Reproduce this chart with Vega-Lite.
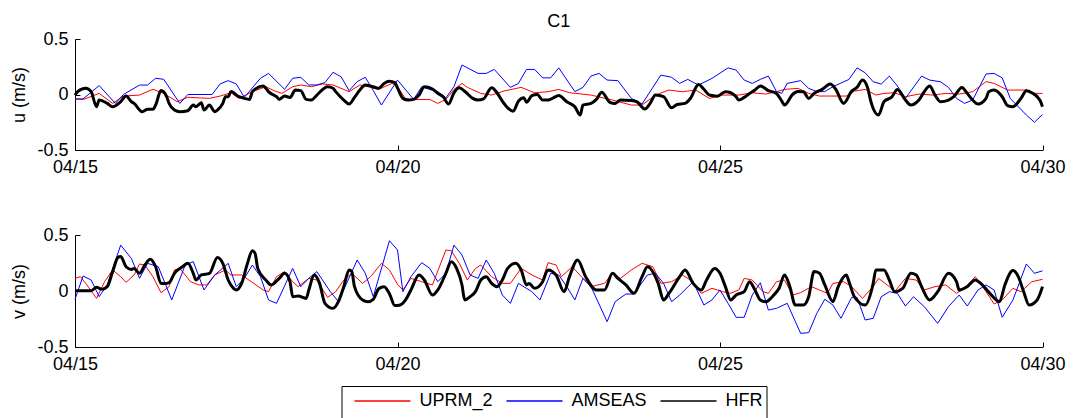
{
"$schema":"https://vega.github.io/schema/vega-lite/v6.json",
"padding":{"left":10,"top":13,"right":5,"bottom":0},
"background":"white",
"title":{"text":"C1","fontSize":18,"fontWeight":"normal","font":"Liberation Sans","color":"black","anchor":"middle","frame":"group","offset":-1},
"bounds":"flush",
"spacing":85,
"config":{"font":"Liberation Sans","view":{"stroke":null},
"axis":{"grid":false,"domainColor":"#000","tickColor":"#000","labelColor":"#000","titleColor":"#000","labelFontSize":18,"titleFontSize":18,"titleFontWeight":"normal","tickSize":-5,"labelFont":"Liberation Sans","titleFont":"Liberation Sans"},
"line":{"strokeJoin":"round"}},
"resolve":{"scale":{"color":"shared"},"legend":{"color":"shared"}},
"datasets":{
"uA":[{"t":"2015-04-15T00:00","y":-0.04},{"t":"2015-04-15T03:00","y":-0.04},{"t":"2015-04-15T09:00","y":0.08},{"t":"2015-04-15T15:00","y":-0.08},{"t":"2015-04-15T18:00","y":0.0},{"t":"2015-04-16T00:00","y":0.085},{"t":"2015-04-16T03:00","y":0.085},{"t":"2015-04-16T06:00","y":0.146},{"t":"2015-04-16T09:00","y":0.137},{"t":"2015-04-16T15:00","y":-0.08},{"t":"2015-04-16T18:00","y":0.0},{"t":"2015-04-17T03:00","y":0.0},{"t":"2015-04-17T06:00","y":0.095},{"t":"2015-04-17T09:00","y":0.125},{"t":"2015-04-17T12:00","y":0.095},{"t":"2015-04-17T15:00","y":-0.025},{"t":"2015-04-17T21:00","y":0.146},{"t":"2015-04-18T00:00","y":0.19},{"t":"2015-04-18T06:00","y":0.047},{"t":"2015-04-18T09:00","y":0.146},{"t":"2015-04-18T12:00","y":0.155},{"t":"2015-04-18T15:00","y":0.086},{"t":"2015-04-18T18:00","y":0.086},{"t":"2015-04-18T21:00","y":0.107},{"t":"2015-04-19T00:00","y":0.2},{"t":"2015-04-19T03:00","y":0.16},{"t":"2015-04-19T06:00","y":0.035},{"t":"2015-04-19T09:00","y":0.116},{"t":"2015-04-19T12:00","y":0.155},{"t":"2015-04-19T15:00","y":0.035},{"t":"2015-04-19T18:00","y":-0.095},{"t":"2015-04-20T00:00","y":0.13},{"t":"2015-04-20T06:00","y":-0.044},{"t":"2015-04-20T09:00","y":0.07},{"t":"2015-04-20T12:00","y":0.045},{"t":"2015-04-20T15:00","y":0.026},{"t":"2015-04-20T18:00","y":-0.03},{"t":"2015-04-20T21:00","y":0.07},{"t":"2015-04-21T00:00","y":0.266},{"t":"2015-04-21T06:00","y":0.19},{"t":"2015-04-21T09:00","y":0.19},{"t":"2015-04-21T12:00","y":0.226},{"t":"2015-04-21T18:00","y":0.064},{"t":"2015-04-21T21:00","y":0.1},{"t":"2015-04-22T00:00","y":0.226},{"t":"2015-04-22T03:00","y":0.226},{"t":"2015-04-22T06:00","y":0.15},{"t":"2015-04-22T09:00","y":0.15},{"t":"2015-04-22T12:00","y":0.24},{"t":"2015-04-22T18:00","y":0.026},{"t":"2015-04-22T21:00","y":0.064},{"t":"2015-04-23T00:00","y":0.166},{"t":"2015-04-23T03:00","y":0.19},{"t":"2015-04-23T06:00","y":0.13},{"t":"2015-04-23T10:00","y":0.125},{"t":"2015-04-23T15:00","y":-0.035},{"t":"2015-04-23T19:00","y":-0.085},{"t":"2015-04-24T02:00","y":0.175},{"t":"2015-04-24T06:00","y":0.155},{"t":"2015-04-24T09:00","y":0.1},{"t":"2015-04-24T12:00","y":0.136},{"t":"2015-04-24T16:00","y":0.085},{"t":"2015-04-24T21:00","y":0.145},{"t":"2015-04-25T03:00","y":0.24},{"t":"2015-04-25T06:00","y":0.22},{"t":"2015-04-25T09:00","y":0.13},{"t":"2015-04-25T12:00","y":0.1},{"t":"2015-04-25T15:00","y":0.136},{"t":"2015-04-25T18:00","y":0.166},{"t":"2015-04-25T21:00","y":0.026},{"t":"2015-04-25T23:00","y":0.011},{"t":"2015-04-26T01:00","y":0.1},{"t":"2015-04-26T06:00","y":0.125},{"t":"2015-04-26T09:00","y":0.055},{"t":"2015-04-26T12:00","y":0.026},{"t":"2015-04-26T15:00","y":0.026},{"t":"2015-04-26T18:00","y":0.07},{"t":"2015-04-27T00:00","y":0.136},{"t":"2015-04-27T03:00","y":0.24},{"t":"2015-04-27T06:00","y":0.196},{"t":"2015-04-27T09:00","y":0.115},{"t":"2015-04-27T12:00","y":0.094},{"t":"2015-04-27T15:00","y":0.166},{"t":"2015-04-27T18:00","y":0.077},{"t":"2015-04-27T21:00","y":-0.035},{"t":"2015-04-28T03:00","y":0.166},{"t":"2015-04-28T06:00","y":0.13},{"t":"2015-04-28T10:00","y":0.115},{"t":"2015-04-28T13:00","y":0.064},{"t":"2015-04-28T16:00","y":-0.035},{"t":"2015-04-28T19:00","y":-0.08},{"t":"2015-04-28T22:00","y":-0.05},{"t":"2015-04-29T03:00","y":0.185},{"t":"2015-04-29T06:00","y":0.19},{"t":"2015-04-29T09:00","y":0.15},{"t":"2015-04-29T12:00","y":-0.035},{"t":"2015-04-29T18:00","y":-0.185},{"t":"2015-04-29T21:00","y":-0.25},{"t":"2015-04-30T00:00","y":-0.18}],
"uU":[{"t":"2015-04-15T00:00","y":-0.04},{"t":"2015-04-15T03:00","y":-0.045},{"t":"2015-04-15T09:00","y":0.01},{"t":"2015-04-15T14:00","y":-0.08},{"t":"2015-04-15T18:00","y":-0.014},{"t":"2015-04-16T00:00","y":-0.005},{"t":"2015-04-16T05:00","y":0.047},{"t":"2015-04-16T09:00","y":0.01},{"t":"2015-04-16T14:00","y":-0.065},{"t":"2015-04-16T18:00","y":-0.025},{"t":"2015-04-17T02:00","y":-0.035},{"t":"2015-04-17T06:00","y":-0.014},{"t":"2015-04-17T10:00","y":0.016},{"t":"2015-04-17T13:00","y":-0.035},{"t":"2015-04-17T18:00","y":0.025},{"t":"2015-04-17T23:00","y":0.07},{"t":"2015-04-18T02:00","y":0.035},{"t":"2015-04-18T05:00","y":0.01},{"t":"2015-04-18T09:00","y":0.07},{"t":"2015-04-18T12:00","y":0.086},{"t":"2015-04-18T16:00","y":0.07},{"t":"2015-04-18T20:00","y":0.095},{"t":"2015-04-19T00:00","y":0.086},{"t":"2015-04-19T06:00","y":0.025},{"t":"2015-04-19T10:00","y":0.086},{"t":"2015-04-19T13:00","y":0.07},{"t":"2015-04-19T17:00","y":0.047},{"t":"2015-04-19T22:00","y":0.1},{"t":"2015-04-20T00:00","y":0.07},{"t":"2015-04-20T03:00","y":-0.04},{"t":"2015-04-20T07:00","y":-0.045},{"t":"2015-04-20T12:00","y":-0.045},{"t":"2015-04-20T15:00","y":-0.08},{"t":"2015-04-20T18:00","y":-0.045},{"t":"2015-04-20T21:00","y":0.046},{"t":"2015-04-21T00:00","y":0.1},{"t":"2015-04-21T02:00","y":0.064},{"t":"2015-04-21T07:00","y":0.01},{"t":"2015-04-21T11:00","y":-0.005},{"t":"2015-04-21T16:00","y":0.034},{"t":"2015-04-21T22:00","y":0.064},{"t":"2015-04-22T03:00","y":0.016},{"t":"2015-04-22T08:00","y":0.025},{"t":"2015-04-22T12:00","y":0.046},{"t":"2015-04-22T16:00","y":0.016},{"t":"2015-04-23T00:00","y":-0.005},{"t":"2015-04-23T08:00","y":-0.05},{"t":"2015-04-23T15:00","y":-0.095},{"t":"2015-04-23T19:00","y":-0.095},{"t":"2015-04-24T00:00","y":-0.005},{"t":"2015-04-24T05:00","y":0.04},{"t":"2015-04-24T10:00","y":0.025},{"t":"2015-04-24T15:00","y":0.04},{"t":"2015-04-24T20:00","y":-0.035},{"t":"2015-04-25T01:00","y":-0.005},{"t":"2015-04-25T07:00","y":-0.005},{"t":"2015-04-25T12:00","y":0.016},{"t":"2015-04-25T17:00","y":0.004},{"t":"2015-04-25T21:00","y":0.025},{"t":"2015-04-26T00:00","y":0.046},{"t":"2015-04-26T05:00","y":0.055},{"t":"2015-04-26T09:00","y":0.01},{"t":"2015-04-26T13:00","y":-0.014},{"t":"2015-04-26T16:00","y":-0.014},{"t":"2015-04-26T23:00","y":-0.014},{"t":"2015-04-27T02:00","y":0.03},{"t":"2015-04-27T06:00","y":0.046},{"t":"2015-04-27T10:00","y":-0.005},{"t":"2015-04-27T13:00","y":0.01},{"t":"2015-04-27T17:00","y":0.016},{"t":"2015-04-27T21:00","y":-0.02},{"t":"2015-04-28T02:00","y":0.004},{"t":"2015-04-28T07:00","y":-0.005},{"t":"2015-04-28T12:00","y":0.01},{"t":"2015-04-28T17:00","y":0.004},{"t":"2015-04-28T22:00","y":0.025},{"t":"2015-04-29T03:00","y":0.116},{"t":"2015-04-29T06:00","y":0.1},{"t":"2015-04-29T11:00","y":0.04},{"t":"2015-04-29T18:00","y":0.04},{"t":"2015-04-29T21:00","y":0.01},{"t":"2015-04-30T00:00","y":0.01}],
"uH":[{"t":"2015-04-15T00:00","y":-0.005},{"t":"2015-04-15T01:00","y":0.026},{"t":"2015-04-15T04:00","y":0.056},{"t":"2015-04-15T06:00","y":0.026},{"t":"2015-04-15T08:00","y":-0.11},{"t":"2015-04-15T09:00","y":-0.05},{"t":"2015-04-15T12:00","y":-0.08},{"t":"2015-04-15T14:00","y":-0.11},{"t":"2015-04-15T17:00","y":-0.065},{"t":"2015-04-15T19:00","y":-0.014},{"t":"2015-04-15T21:00","y":-0.065},{"t":"2015-04-15T22:00","y":-0.08},{"t":"2015-04-16T01:00","y":-0.155},{"t":"2015-04-16T03:00","y":-0.134},{"t":"2015-04-16T05:00","y":-0.134},{"t":"2015-04-16T06:00","y":-0.095},{"t":"2015-04-16T08:00","y":0.035},{"t":"2015-04-16T10:00","y":-0.014},{"t":"2015-04-16T11:00","y":-0.08},{"t":"2015-04-16T13:00","y":-0.14},{"t":"2015-04-16T15:00","y":-0.155},{"t":"2015-04-16T18:00","y":-0.146},{"t":"2015-04-16T20:00","y":-0.095},{"t":"2015-04-16T21:00","y":-0.11},{"t":"2015-04-16T23:00","y":-0.074},{"t":"2015-04-17T00:00","y":-0.14},{"t":"2015-04-17T02:00","y":-0.095},{"t":"2015-04-17T04:00","y":-0.155},{"t":"2015-04-17T05:00","y":-0.14},{"t":"2015-04-17T07:00","y":-0.08},{"t":"2015-04-17T08:00","y":-0.02},{"t":"2015-04-17T09:00","y":-0.02},{"t":"2015-04-17T10:00","y":0.026},{"t":"2015-04-17T13:00","y":-0.02},{"t":"2015-04-17T15:00","y":-0.035},{"t":"2015-04-17T17:00","y":-0.044},{"t":"2015-04-17T18:00","y":0.026},{"t":"2015-04-17T22:00","y":0.077},{"t":"2015-04-17T23:00","y":0.056},{"t":"2015-04-18T00:00","y":0.026},{"t":"2015-04-18T03:00","y":-0.02},{"t":"2015-04-18T04:00","y":-0.044},{"t":"2015-04-18T06:00","y":-0.014},{"t":"2015-04-18T08:00","y":-0.026},{"t":"2015-04-18T10:00","y":0.04},{"t":"2015-04-18T12:00","y":0.035},{"t":"2015-04-18T14:00","y":-0.044},{"t":"2015-04-18T16:00","y":-0.05},{"t":"2015-04-18T18:00","y":-0.005},{"t":"2015-04-18T22:00","y":0.07},{"t":"2015-04-19T00:00","y":0.056},{"t":"2015-04-19T01:00","y":0.026},{"t":"2015-04-19T04:00","y":-0.05},{"t":"2015-04-19T06:00","y":-0.086},{"t":"2015-04-19T08:00","y":-0.026},{"t":"2015-04-19T10:00","y":0.04},{"t":"2015-04-19T12:00","y":0.086},{"t":"2015-04-19T14:00","y":0.077},{"t":"2015-04-19T17:00","y":0.056},{"t":"2015-04-19T19:00","y":0.1},{"t":"2015-04-19T21:00","y":0.12},{"t":"2015-04-19T23:00","y":0.107},{"t":"2015-04-20T00:00","y":0.06},{"t":"2015-04-20T02:00","y":-0.035},{"t":"2015-04-20T04:00","y":-0.05},{"t":"2015-04-20T06:00","y":-0.044},{"t":"2015-04-20T08:00","y":-0.005},{"t":"2015-04-20T10:00","y":0.07},{"t":"2015-04-20T13:00","y":0.05},{"t":"2015-04-20T15:00","y":0.01},{"t":"2015-04-20T17:00","y":-0.02},{"t":"2015-04-20T19:00","y":-0.086},{"t":"2015-04-20T21:00","y":0.015},{"t":"2015-04-20T23:00","y":0.06},{"t":"2015-04-21T01:00","y":0.03},{"t":"2015-04-21T04:00","y":-0.035},{"t":"2015-04-21T06:00","y":-0.05},{"t":"2015-04-21T08:00","y":-0.04},{"t":"2015-04-21T11:00","y":0.06},{"t":"2015-04-21T13:00","y":0.016},{"t":"2015-04-21T15:00","y":-0.06},{"t":"2015-04-21T17:00","y":-0.12},{"t":"2015-04-21T19:00","y":-0.15},{"t":"2015-04-21T21:00","y":-0.06},{"t":"2015-04-21T23:00","y":-0.03},{"t":"2015-04-22T00:00","y":-0.07},{"t":"2015-04-22T02:00","y":-0.01},{"t":"2015-04-22T04:00","y":0.0},{"t":"2015-04-22T06:00","y":-0.05},{"t":"2015-04-22T08:00","y":-0.05},{"t":"2015-04-22T10:00","y":-0.03},{"t":"2015-04-22T12:00","y":-0.01},{"t":"2015-04-22T15:00","y":-0.065},{"t":"2015-04-22T18:00","y":-0.11},{"t":"2015-04-22T20:00","y":-0.185},{"t":"2015-04-22T21:00","y":-0.095},{"t":"2015-04-23T00:00","y":-0.08},{"t":"2015-04-23T02:00","y":-0.044},{"t":"2015-04-23T04:00","y":0.02},{"t":"2015-04-23T07:00","y":-0.07},{"t":"2015-04-23T09:00","y":-0.08},{"t":"2015-04-23T11:00","y":-0.05},{"t":"2015-04-23T15:00","y":-0.055},{"t":"2015-04-23T17:00","y":-0.065},{"t":"2015-04-23T20:00","y":-0.13},{"t":"2015-04-23T22:00","y":-0.08},{"t":"2015-04-24T00:00","y":-0.005},{"t":"2015-04-24T03:00","y":-0.02},{"t":"2015-04-24T06:00","y":-0.12},{"t":"2015-04-24T08:00","y":-0.09},{"t":"2015-04-24T11:00","y":-0.08},{"t":"2015-04-24T13:00","y":-0.035},{"t":"2015-04-24T16:00","y":0.09},{"t":"2015-04-24T18:00","y":0.047},{"t":"2015-04-24T20:00","y":-0.005},{"t":"2015-04-24T23:00","y":-0.015},{"t":"2015-04-25T02:00","y":0.025},{"t":"2015-04-25T04:00","y":0.016},{"t":"2015-04-25T06:00","y":-0.02},{"t":"2015-04-25T07:00","y":-0.05},{"t":"2015-04-25T09:00","y":-0.026},{"t":"2015-04-25T11:00","y":0.008},{"t":"2015-04-25T13:00","y":0.04},{"t":"2015-04-25T15:00","y":0.077},{"t":"2015-04-25T18:00","y":0.035},{"t":"2015-04-25T21:00","y":0.01},{"t":"2015-04-25T23:00","y":-0.06},{"t":"2015-04-26T00:00","y":-0.095},{"t":"2015-04-26T03:00","y":0.0},{"t":"2015-04-26T05:00","y":0.026},{"t":"2015-04-26T07:00","y":0.025},{"t":"2015-04-26T09:00","y":-0.035},{"t":"2015-04-26T11:00","y":0.01},{"t":"2015-04-26T14:00","y":0.046},{"t":"2015-04-26T17:00","y":0.094},{"t":"2015-04-26T19:00","y":0.05},{"t":"2015-04-26T22:00","y":-0.08},{"t":"2015-04-27T01:00","y":0.03},{"t":"2015-04-27T03:00","y":0.064},{"t":"2015-04-27T05:00","y":0.13},{"t":"2015-04-27T07:00","y":0.055},{"t":"2015-04-27T08:00","y":-0.05},{"t":"2015-04-27T11:00","y":-0.185},{"t":"2015-04-27T13:00","y":-0.065},{"t":"2015-04-27T16:00","y":-0.02},{"t":"2015-04-27T18:00","y":0.046},{"t":"2015-04-27T21:00","y":-0.05},{"t":"2015-04-27T23:00","y":-0.095},{"t":"2015-04-28T02:00","y":-0.05},{"t":"2015-04-28T04:00","y":0.025},{"t":"2015-04-28T06:00","y":0.076},{"t":"2015-04-28T08:00","y":-0.005},{"t":"2015-04-28T10:00","y":-0.065},{"t":"2015-04-28T13:00","y":-0.05},{"t":"2015-04-28T15:00","y":-0.02},{"t":"2015-04-28T18:00","y":0.064},{"t":"2015-04-28T20:00","y":0.01},{"t":"2015-04-28T22:00","y":-0.05},{"t":"2015-04-29T00:00","y":-0.086},{"t":"2015-04-29T03:00","y":-0.035},{"t":"2015-04-29T04:00","y":0.025},{"t":"2015-04-29T06:00","y":0.04},{"t":"2015-04-29T09:00","y":-0.02},{"t":"2015-04-29T11:00","y":-0.1},{"t":"2015-04-29T13:00","y":-0.11},{"t":"2015-04-29T16:00","y":-0.035},{"t":"2015-04-29T18:00","y":0.034},{"t":"2015-04-29T20:00","y":0.016},{"t":"2015-04-29T23:00","y":-0.05},{"t":"2015-04-30T00:00","y":-0.11}],
"vU":[{"t":"2015-04-15T00:00","y":0.113},{"t":"2015-04-15T02:00","y":0.128},{"t":"2015-04-15T04:00","y":0.068},{"t":"2015-04-15T08:00","y":-0.066},{"t":"2015-04-15T11:00","y":0.083},{"t":"2015-04-15T14:00","y":0.188},{"t":"2015-04-15T17:00","y":0.128},{"t":"2015-04-15T19:00","y":0.077},{"t":"2015-04-15T22:00","y":0.143},{"t":"2015-04-16T00:00","y":0.241},{"t":"2015-04-16T02:00","y":0.232},{"t":"2015-04-16T05:00","y":0.128},{"t":"2015-04-16T08:00","y":-0.015},{"t":"2015-04-16T11:00","y":0.039},{"t":"2015-04-16T13:00","y":0.188},{"t":"2015-04-16T15:00","y":0.202},{"t":"2015-04-16T19:00","y":0.083},{"t":"2015-04-16T22:00","y":0.054},{"t":"2015-04-17T01:00","y":0.054},{"t":"2015-04-17T04:00","y":0.143},{"t":"2015-04-17T08:00","y":0.188},{"t":"2015-04-17T10:00","y":0.143},{"t":"2015-04-17T14:00","y":0.143},{"t":"2015-04-17T22:00","y":0.009},{"t":"2015-04-18T00:00","y":-0.006},{"t":"2015-04-18T03:00","y":0.128},{"t":"2015-04-18T06:00","y":0.173},{"t":"2015-04-18T09:00","y":0.083},{"t":"2015-04-18T11:00","y":0.039},{"t":"2015-04-18T15:00","y":0.113},{"t":"2015-04-18T18:00","y":0.098},{"t":"2015-04-18T22:00","y":-0.057},{"t":"2015-04-19T01:00","y":-0.006},{"t":"2015-04-19T04:00","y":0.098},{"t":"2015-04-19T07:00","y":0.158},{"t":"2015-04-19T11:00","y":0.068},{"t":"2015-04-19T14:00","y":0.128},{"t":"2015-04-19T18:00","y":0.247},{"t":"2015-04-19T21:00","y":0.188},{"t":"2015-04-20T00:00","y":0.06},{"t":"2015-04-20T02:00","y":0.009},{"t":"2015-04-20T05:00","y":0.113},{"t":"2015-04-20T09:00","y":0.083},{"t":"2015-04-20T13:00","y":0.054},{"t":"2015-04-20T18:00","y":0.366},{"t":"2015-04-20T20:00","y":0.36},{"t":"2015-04-20T23:00","y":0.247},{"t":"2015-04-21T02:00","y":0.098},{"t":"2015-04-21T05:00","y":0.202},{"t":"2015-04-21T07:00","y":0.232},{"t":"2015-04-21T11:00","y":0.128},{"t":"2015-04-21T15:00","y":0.068},{"t":"2015-04-21T18:00","y":0.068},{"t":"2015-04-21T22:00","y":0.202},{"t":"2015-04-22T02:00","y":0.143},{"t":"2015-04-22T06:00","y":0.098},{"t":"2015-04-22T08:00","y":0.253},{"t":"2015-04-22T11:00","y":0.232},{"t":"2015-04-22T13:00","y":0.128},{"t":"2015-04-22T17:00","y":0.217},{"t":"2015-04-22T21:00","y":0.113},{"t":"2015-04-23T00:00","y":0.039},{"t":"2015-04-23T05:00","y":0.068},{"t":"2015-04-23T08:00","y":0.158},{"t":"2015-04-23T11:00","y":0.113},{"t":"2015-04-23T15:00","y":0.188},{"t":"2015-04-23T19:00","y":0.247},{"t":"2015-04-23T23:00","y":0.217},{"t":"2015-04-24T02:00","y":0.068},{"t":"2015-04-24T06:00","y":0.083},{"t":"2015-04-24T10:00","y":0.143},{"t":"2015-04-24T14:00","y":0.083},{"t":"2015-04-24T17:00","y":-0.021},{"t":"2015-04-24T21:00","y":0.024},{"t":"2015-04-25T01:00","y":-0.006},{"t":"2015-04-25T04:00","y":-0.02},{"t":"2015-04-25T07:00","y":0.01},{"t":"2015-04-25T09:00","y":0.113},{"t":"2015-04-25T12:00","y":0.098},{"t":"2015-04-25T16:00","y":-0.006},{"t":"2015-04-25T18:00","y":-0.021},{"t":"2015-04-25T21:00","y":0.083},{"t":"2015-04-26T00:00","y":0.098},{"t":"2015-04-26T03:00","y":-0.036},{"t":"2015-04-26T06:00","y":-0.015},{"t":"2015-04-26T10:00","y":0.039},{"t":"2015-04-26T13:00","y":0.009},{"t":"2015-04-26T16:00","y":-0.021},{"t":"2015-04-26T18:00","y":0.068},{"t":"2015-04-26T22:00","y":0.083},{"t":"2015-04-27T01:00","y":0.039},{"t":"2015-04-27T05:00","y":-0.066},{"t":"2015-04-27T09:00","y":0.039},{"t":"2015-04-27T11:00","y":0.113},{"t":"2015-04-27T15:00","y":0.039},{"t":"2015-04-27T17:00","y":-0.006},{"t":"2015-04-27T21:00","y":0.113},{"t":"2015-04-28T01:00","y":0.098},{"t":"2015-04-28T04:00","y":0.009},{"t":"2015-04-28T08:00","y":0.039},{"t":"2015-04-28T12:00","y":0.054},{"t":"2015-04-28T16:00","y":-0.021},{"t":"2015-04-28T19:00","y":0.024},{"t":"2015-04-28T23:00","y":0.128},{"t":"2015-04-29T03:00","y":-0.006},{"t":"2015-04-29T06:00","y":-0.116},{"t":"2015-04-29T09:00","y":-0.08},{"t":"2015-04-29T13:00","y":0.024},{"t":"2015-04-29T16:00","y":-0.006},{"t":"2015-04-29T20:00","y":0.083},{"t":"2015-04-30T00:00","y":0.104}],
"vA":[{"t":"2015-04-15T00:00","y":-0.074},{"t":"2015-04-15T03:00","y":0.134},{"t":"2015-04-15T06:00","y":0.098},{"t":"2015-04-15T09:00","y":-0.05},{"t":"2015-04-15T12:00","y":0.054},{"t":"2015-04-15T17:00","y":0.41},{"t":"2015-04-15T21:00","y":0.29},{"t":"2015-04-16T00:00","y":0.113},{"t":"2015-04-16T03:00","y":0.247},{"t":"2015-04-16T07:00","y":0.217},{"t":"2015-04-16T12:00","y":-0.08},{"t":"2015-04-16T17:00","y":0.232},{"t":"2015-04-16T20:00","y":0.262},{"t":"2015-04-17T00:00","y":0.009},{"t":"2015-04-17T04:00","y":0.143},{"t":"2015-04-17T09:00","y":0.247},{"t":"2015-04-17T12:00","y":0.039},{"t":"2015-04-17T15:00","y":0.113},{"t":"2015-04-17T18:00","y":0.232},{"t":"2015-04-17T21:00","y":0.128},{"t":"2015-04-18T00:00","y":-0.08},{"t":"2015-04-18T03:00","y":-0.11},{"t":"2015-04-18T09:00","y":0.202},{"t":"2015-04-18T12:00","y":0.039},{"t":"2015-04-18T15:00","y":0.113},{"t":"2015-04-18T18:00","y":0.173},{"t":"2015-04-18T23:00","y":-0.006},{"t":"2015-04-19T02:00","y":-0.095},{"t":"2015-04-19T09:00","y":0.277},{"t":"2015-04-19T12:00","y":0.158},{"t":"2015-04-19T15:00","y":-0.05},{"t":"2015-04-19T21:00","y":0.449},{"t":"2015-04-20T00:00","y":0.366},{"t":"2015-04-20T02:00","y":-0.006},{"t":"2015-04-20T05:00","y":0.128},{"t":"2015-04-20T09:00","y":0.253},{"t":"2015-04-20T12:00","y":0.202},{"t":"2015-04-20T15:00","y":0.083},{"t":"2015-04-20T18:00","y":0.158},{"t":"2015-04-20T21:00","y":0.41},{"t":"2015-04-21T00:00","y":0.321},{"t":"2015-04-21T03:00","y":0.143},{"t":"2015-04-21T06:00","y":0.113},{"t":"2015-04-21T09:00","y":0.277},{"t":"2015-04-21T12:00","y":0.158},{"t":"2015-04-21T15:00","y":-0.036},{"t":"2015-04-21T18:00","y":-0.11},{"t":"2015-04-21T21:00","y":0.068},{"t":"2015-04-22T02:00","y":-0.006},{"t":"2015-04-22T05:00","y":-0.08},{"t":"2015-04-22T09:00","y":0.158},{"t":"2015-04-22T12:00","y":0.143},{"t":"2015-04-22T15:00","y":0.039},{"t":"2015-04-22T18:00","y":-0.08},{"t":"2015-04-22T21:00","y":0.113},{"t":"2015-04-23T00:00","y":0.039},{"t":"2015-04-23T06:00","y":-0.274},{"t":"2015-04-23T09:00","y":-0.095},{"t":"2015-04-23T13:00","y":-0.027},{"t":"2015-04-23T16:00","y":-0.027},{"t":"2015-04-23T21:00","y":0.143},{"t":"2015-04-24T00:00","y":0.158},{"t":"2015-04-24T03:00","y":0.068},{"t":"2015-04-24T06:00","y":-0.095},{"t":"2015-04-24T09:00","y":-0.036},{"t":"2015-04-24T14:00","y":0.083},{"t":"2015-04-24T18:00","y":-0.125},{"t":"2015-04-24T21:00","y":-0.08},{"t":"2015-04-25T00:00","y":0.009},{"t":"2015-04-25T03:00","y":-0.11},{"t":"2015-04-25T06:00","y":-0.235},{"t":"2015-04-25T09:00","y":-0.235},{"t":"2015-04-25T12:00","y":-0.036},{"t":"2015-04-25T15:00","y":0.074},{"t":"2015-04-25T18:00","y":-0.17},{"t":"2015-04-25T21:00","y":-0.155},{"t":"2015-04-26T01:00","y":-0.11},{"t":"2015-04-26T06:00","y":-0.378},{"t":"2015-04-26T09:00","y":-0.372},{"t":"2015-04-26T12:00","y":-0.2},{"t":"2015-04-26T15:00","y":-0.074},{"t":"2015-04-26T18:00","y":-0.125},{"t":"2015-04-26T21:00","y":-0.244},{"t":"2015-04-27T01:00","y":-0.057},{"t":"2015-04-27T03:00","y":-0.057},{"t":"2015-04-27T06:00","y":-0.259},{"t":"2015-04-27T09:00","y":-0.244},{"t":"2015-04-27T12:00","y":-0.051},{"t":"2015-04-27T15:00","y":-0.006},{"t":"2015-04-27T18:00","y":-0.021},{"t":"2015-04-27T21:00","y":-0.134},{"t":"2015-04-28T00:00","y":-0.051},{"t":"2015-04-28T04:00","y":-0.14},{"t":"2015-04-28T09:00","y":-0.289},{"t":"2015-04-28T13:00","y":-0.14},{"t":"2015-04-28T17:00","y":-0.036},{"t":"2015-04-28T20:00","y":-0.134},{"t":"2015-04-29T00:00","y":0.009},{"t":"2015-04-29T03:00","y":0.054},{"t":"2015-04-29T06:00","y":0.009},{"t":"2015-04-29T09:00","y":-0.235},{"t":"2015-04-29T13:00","y":-0.08},{"t":"2015-04-29T18:00","y":0.241},{"t":"2015-04-29T21:00","y":0.158},{"t":"2015-04-30T00:00","y":0.18}],
"vH":[{"t":"2015-04-15T00:00","y":0.003},{"t":"2015-04-15T04:00","y":0.003},{"t":"2015-04-15T06:00","y":0.003},{"t":"2015-04-15T08:00","y":0.033},{"t":"2015-04-15T10:00","y":0.015},{"t":"2015-04-15T12:00","y":0.039},{"t":"2015-04-15T14:00","y":0.173},{"t":"2015-04-15T16:00","y":0.3},{"t":"2015-04-15T17:00","y":0.307},{"t":"2015-04-15T19:00","y":0.217},{"t":"2015-04-15T21:00","y":0.193},{"t":"2015-04-15T22:00","y":0.202},{"t":"2015-04-16T00:00","y":0.158},{"t":"2015-04-16T02:00","y":0.232},{"t":"2015-04-16T04:00","y":0.283},{"t":"2015-04-16T06:00","y":0.217},{"t":"2015-04-16T08:00","y":0.068},{"t":"2015-04-16T10:00","y":0.068},{"t":"2015-04-16T11:00","y":0.074},{"t":"2015-04-16T13:00","y":0.158},{"t":"2015-04-16T16:00","y":0.217},{"t":"2015-04-16T18:00","y":0.247},{"t":"2015-04-16T20:00","y":0.158},{"t":"2015-04-16T21:00","y":0.098},{"t":"2015-04-16T23:00","y":0.143},{"t":"2015-04-17T02:00","y":0.158},{"t":"2015-04-17T05:00","y":0.3},{"t":"2015-04-17T07:00","y":0.247},{"t":"2015-04-17T09:00","y":0.098},{"t":"2015-04-17T11:00","y":0.024},{"t":"2015-04-17T12:00","y":0.009},{"t":"2015-04-17T14:00","y":0.068},{"t":"2015-04-17T16:00","y":0.232},{"t":"2015-04-17T18:00","y":0.36},{"t":"2015-04-17T19:00","y":0.336},{"t":"2015-04-17T20:00","y":0.202},{"t":"2015-04-17T23:00","y":0.098},{"t":"2015-04-18T01:00","y":0.054},{"t":"2015-04-18T04:00","y":0.113},{"t":"2015-04-18T06:00","y":0.158},{"t":"2015-04-18T08:00","y":0.083},{"t":"2015-04-18T09:00","y":-0.051},{"t":"2015-04-18T11:00","y":-0.045},{"t":"2015-04-18T14:00","y":-0.066},{"t":"2015-04-18T15:00","y":0.009},{"t":"2015-04-18T17:00","y":0.143},{"t":"2015-04-18T19:00","y":0.068},{"t":"2015-04-18T21:00","y":-0.11},{"t":"2015-04-19T00:00","y":-0.155},{"t":"2015-04-19T02:00","y":-0.095},{"t":"2015-04-19T04:00","y":0.039},{"t":"2015-04-19T06:00","y":0.188},{"t":"2015-04-19T07:00","y":0.173},{"t":"2015-04-19T08:00","y":0.039},{"t":"2015-04-19T11:00","y":-0.08},{"t":"2015-04-19T13:00","y":-0.095},{"t":"2015-04-19T15:00","y":-0.074},{"t":"2015-04-19T17:00","y":0.02},{"t":"2015-04-19T19:00","y":0.039},{"t":"2015-04-19T21:00","y":-0.024},{"t":"2015-04-19T23:00","y":-0.13},{"t":"2015-04-20T01:00","y":-0.125},{"t":"2015-04-20T03:00","y":-0.08},{"t":"2015-04-20T05:00","y":0.009},{"t":"2015-04-20T08:00","y":0.143},{"t":"2015-04-20T10:00","y":0.098},{"t":"2015-04-20T13:00","y":-0.036},{"t":"2015-04-20T15:00","y":0.009},{"t":"2015-04-20T18:00","y":0.158},{"t":"2015-04-20T20:00","y":0.262},{"t":"2015-04-20T22:00","y":0.202},{"t":"2015-04-21T00:00","y":0.054},{"t":"2015-04-21T01:00","y":-0.08},{"t":"2015-04-21T03:00","y":-0.051},{"t":"2015-04-21T05:00","y":-0.006},{"t":"2015-04-21T07:00","y":0.098},{"t":"2015-04-21T09:00","y":0.128},{"t":"2015-04-21T11:00","y":0.068},{"t":"2015-04-21T13:00","y":0.039},{"t":"2015-04-21T15:00","y":0.098},{"t":"2015-04-21T17:00","y":0.202},{"t":"2015-04-21T20:00","y":0.247},{"t":"2015-04-21T22:00","y":0.188},{"t":"2015-04-22T00:00","y":0.054},{"t":"2015-04-22T01:00","y":0.068},{"t":"2015-04-22T03:00","y":0.024},{"t":"2015-04-22T06:00","y":0.083},{"t":"2015-04-22T08:00","y":0.188},{"t":"2015-04-22T11:00","y":0.143},{"t":"2015-04-22T14:00","y":-0.006},{"t":"2015-04-22T16:00","y":0.128},{"t":"2015-04-22T19:00","y":0.277},{"t":"2015-04-22T22:00","y":0.128},{"t":"2015-04-23T02:00","y":0.009},{"t":"2015-04-23T05:00","y":0.009},{"t":"2015-04-23T08:00","y":0.158},{"t":"2015-04-23T10:00","y":0.113},{"t":"2015-04-23T13:00","y":0.054},{"t":"2015-04-23T16:00","y":-0.021},{"t":"2015-04-23T19:00","y":0.128},{"t":"2015-04-23T21:00","y":0.217},{"t":"2015-04-24T01:00","y":0.068},{"t":"2015-04-24T03:00","y":-0.08},{"t":"2015-04-24T05:00","y":-0.021},{"t":"2015-04-24T09:00","y":0.128},{"t":"2015-04-24T11:00","y":0.188},{"t":"2015-04-24T14:00","y":0.068},{"t":"2015-04-24T17:00","y":0.009},{"t":"2015-04-24T19:00","y":0.098},{"t":"2015-04-24T22:00","y":0.202},{"t":"2015-04-25T00:00","y":0.158},{"t":"2015-04-25T02:00","y":0.039},{"t":"2015-04-25T04:00","y":-0.08},{"t":"2015-04-25T06:00","y":-0.036},{"t":"2015-04-25T09:00","y":-0.006},{"t":"2015-04-25T11:00","y":0.083},{"t":"2015-04-25T13:00","y":0.009},{"t":"2015-04-25T15:00","y":-0.08},{"t":"2015-04-25T17:00","y":-0.095},{"t":"2015-04-25T20:00","y":-0.036},{"t":"2015-04-25T22:00","y":0.024},{"t":"2015-04-26T00:00","y":0.143},{"t":"2015-04-26T02:00","y":0.039},{"t":"2015-04-26T04:00","y":-0.125},{"t":"2015-04-26T07:00","y":-0.125},{"t":"2015-04-26T09:00","y":-0.051},{"t":"2015-04-26T11:00","y":0.173},{"t":"2015-04-26T13:00","y":0.158},{"t":"2015-04-26T15:00","y":0.054},{"t":"2015-04-26T18:00","y":-0.095},{"t":"2015-04-26T20:00","y":0.039},{"t":"2015-04-26T23:00","y":0.143},{"t":"2015-04-27T00:00","y":0.083},{"t":"2015-04-27T02:00","y":-0.051},{"t":"2015-04-27T06:00","y":-0.125},{"t":"2015-04-27T09:00","y":0.068},{"t":"2015-04-27T10:00","y":0.188},{"t":"2015-04-27T13:00","y":0.188},{"t":"2015-04-27T15:00","y":0.098},{"t":"2015-04-27T17:00","y":-0.006},{"t":"2015-04-27T20:00","y":0.024},{"t":"2015-04-27T23:00","y":0.158},{"t":"2015-04-28T01:00","y":0.143},{"t":"2015-04-28T03:00","y":0.039},{"t":"2015-04-28T06:00","y":-0.08},{"t":"2015-04-28T09:00","y":-0.006},{"t":"2015-04-28T13:00","y":0.158},{"t":"2015-04-28T16:00","y":0.083},{"t":"2015-04-28T17:00","y":0.009},{"t":"2015-04-28T20:00","y":0.039},{"t":"2015-04-28T23:00","y":0.098},{"t":"2015-04-29T01:00","y":0.068},{"t":"2015-04-29T05:00","y":-0.036},{"t":"2015-04-29T08:00","y":-0.095},{"t":"2015-04-29T10:00","y":0.054},{"t":"2015-04-29T13:00","y":0.182},{"t":"2015-04-29T15:00","y":0.128},{"t":"2015-04-29T17:00","y":-0.006},{"t":"2015-04-29T19:00","y":-0.125},{"t":"2015-04-29T22:00","y":-0.08},{"t":"2015-04-30T00:00","y":0.039}]
},
"vconcat":[
{"width":967.5,"height":111,
"encoding":{
"x":{"field":"t","type":"temporal","scale":{"domain":[{"year":2015,"month":4,"date":15},{"year":2015,"month":4,"date":30}]},"axis":{"title":null,"values":[{"year":2015,"month":4,"date":15},{"year":2015,"month":4,"date":20},{"year":2015,"month":4,"date":25},{"year":2015,"month":4,"date":30}],"format":"%m/%d","labelFlush":false,"labelOverlap":false,"labelPadding":13}},
"y":{"field":"y","type":"quantitative","scale":{"domain":[-0.5,0.5],"nice":false},"axis":{"title":"u (m/s)","values":[-0.5,0,0.5],"labelExpr":"datum.value == 0 ? '0' : (datum.value > 0 ? '0.5' : '-0.5')","labelPadding":12,"titlePadding":8}}},
"layer":[
{"data":{"name":"uU"},"mark":{"type":"line","strokeWidth":1},"encoding":{"color":{"datum":"UPRM_2","type":"nominal","scale":{"domain":["UPRM_2","AMSEAS","HFR"],"range":["#ff0000","#0000ff","#000000"]},
"legend":{"orient":"none","legendX":266.5,"legendY":347,"direction":"horizontal","title":" ","titleOrient":"bottom","titleFontSize":18,"titlePadding":6,"symbolType":"stroke","symbolSize":3136,"clipHeight":22,"symbolOffset":8,"labelFontSize":18,"labelFont":"Liberation Sans","labelColor":"black","labelOffset":8,"columnPadding":4,"padding":4,"strokeColor":"black","fillColor":"white","encode":{"symbols":{"update":{"strokeWidth":{"signal":"datum.value === 'HFR' ? 3 : 1"}}}}}}}},
{"data":{"name":"uA"},"mark":{"type":"line","strokeWidth":1},"encoding":{"color":{"datum":"AMSEAS","type":"nominal"}}},
{"data":{"name":"uH"},"mark":{"type":"line","strokeWidth":3,"interpolate":"monotone"},"encoding":{"color":{"datum":"HFR","type":"nominal"}}}
]},
{"width":967.5,"height":112,
"encoding":{
"x":{"field":"t","type":"temporal","scale":{"domain":[{"year":2015,"month":4,"date":15},{"year":2015,"month":4,"date":30}]},"axis":{"title":null,"values":[{"year":2015,"month":4,"date":15},{"year":2015,"month":4,"date":20},{"year":2015,"month":4,"date":25},{"year":2015,"month":4,"date":30}],"format":"%m/%d","labelFlush":false,"labelOverlap":false,"labelPadding":13}},
"y":{"field":"y","type":"quantitative","scale":{"domain":[-0.5,0.5],"nice":false},"axis":{"title":"v (m/s)","values":[-0.5,0,0.5],"labelExpr":"datum.value == 0 ? '0' : (datum.value > 0 ? '0.5' : '-0.5')","labelPadding":12,"titlePadding":8}}},
"layer":[
{"data":{"name":"vU"},"mark":{"type":"line","strokeWidth":1},"encoding":{"color":{"datum":"UPRM_2","type":"nominal"}}},
{"data":{"name":"vA"},"mark":{"type":"line","strokeWidth":1},"encoding":{"color":{"datum":"AMSEAS","type":"nominal"}}},
{"data":{"name":"vH"},"mark":{"type":"line","strokeWidth":3,"interpolate":"monotone"},"encoding":{"color":{"datum":"HFR","type":"nominal"}}}
]}
]
}
